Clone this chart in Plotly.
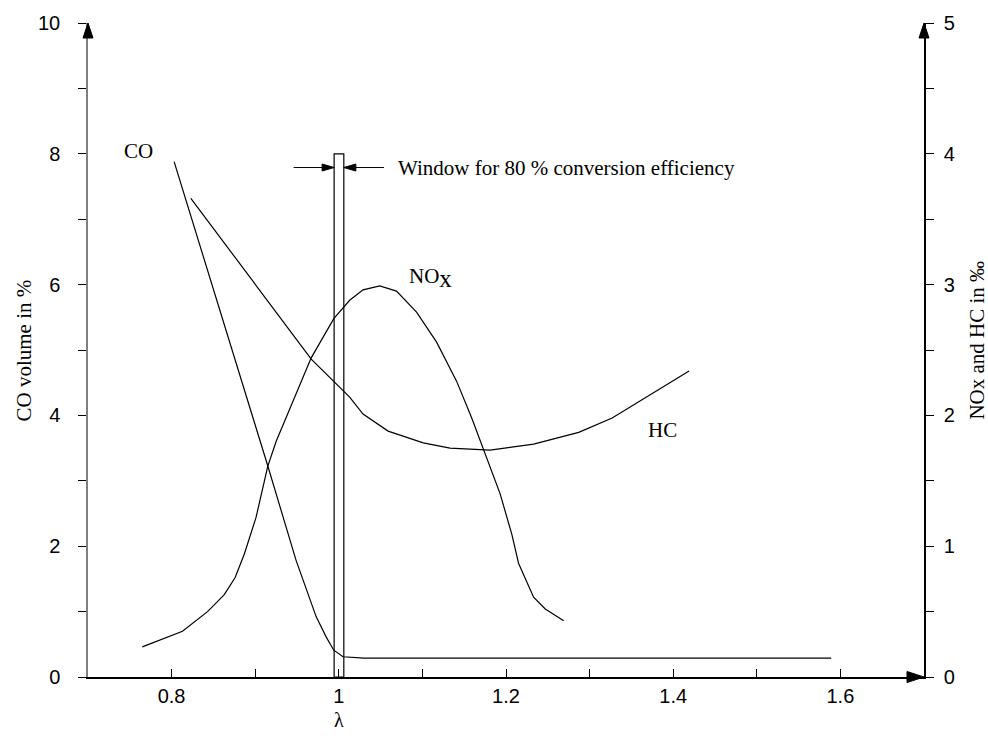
import plotly.graph_objects as go

# ---- data ----
lam_co = [0.803, 0.906, 0.915, 0.949, 0.973, 0.985, 0.994, 1.005, 1.03, 1.589]
co = [7.88, 3.61, 3.23, 1.78, 0.92, 0.61, 0.41, 0.31, 0.29, 0.29]

lam_hc = [0.823, 0.9, 0.967, 1.013, 1.029, 1.059, 1.101, 1.133, 1.181, 1.233, 1.287, 1.327, 1.419]
hc = [3.66, 3.0, 2.43, 2.14, 2.01, 1.88, 1.79, 1.75, 1.735, 1.78, 1.87, 1.98, 2.34]

lam_nox = [0.765, 0.813, 0.843, 0.863, 0.876, 0.887, 0.901, 0.915, 0.925, 0.967, 0.994,
           1.013, 1.029, 1.049, 1.069, 1.093, 1.117, 1.141, 1.159, 1.175, 1.193, 1.207,
           1.215, 1.233, 1.247, 1.269]
nox = [0.23, 0.35, 0.50, 0.63, 0.76, 0.94, 1.22, 1.61, 1.80, 2.44, 2.74,
       2.88, 2.96, 2.99, 2.95, 2.79, 2.56, 2.26, 1.98, 1.70, 1.40, 1.09,
       0.87, 0.61, 0.52, 0.43]

window_lo, window_hi, window_top = 0.9944, 1.006, 8.0
arrow_y = 7.79
arrow_left_start, arrow_right_start = 0.946, 1.054

x_range = [0.7, 1.7]
y_left_range = [0, 10]
y_right_range = [0, 5]

SERIF = "Liberation Serif"
SANS = "Liberation Sans"

W, H = 988, 744
ML, MR, MT, MB = 88, 64, 20, 67
PW, PH = W - ML - MR, H - MT - MB


def px_x(p):
    return (p - ML) / PW


def px_y(p):
    return (H - MB - p) / PH


fig = go.Figure()
line = dict(color="black", width=1.2)
fig.add_trace(go.Scatter(x=lam_co, y=co, mode="lines", line=line, yaxis="y", hoverinfo="skip"))
fig.add_trace(go.Scatter(x=lam_hc, y=hc, mode="lines", line=line, yaxis="y2", hoverinfo="skip"))
fig.add_trace(go.Scatter(x=lam_nox, y=nox, mode="lines", line=line, yaxis="y2", hoverinfo="skip"))

blk = dict(color="black", width=1)
shapes = [
    dict(type="rect", xref="x", yref="y", x0=window_lo, x1=window_hi, y0=0, y1=window_top,
         line=dict(color="black", width=1.2), fillcolor="rgba(0,0,0,0)", layer="above"),
    # axis arrowheads (paper refs, not clipped)
    dict(type="path", xref="paper", yref="paper", xsizemode="pixel", ysizemode="pixel",
         xanchor=0, yanchor=1, path="M -5 -15 L 5 -15 L 0 0 Z", fillcolor="black", line=blk),
    dict(type="path", xref="paper", yref="paper", xsizemode="pixel", ysizemode="pixel",
         xanchor=1, yanchor=1, path="M -5 -15 L 5 -15 L 0 0 Z", fillcolor="black", line=blk),
    dict(type="path", xref="paper", yref="paper", xsizemode="pixel", ysizemode="pixel",
         xanchor=1, yanchor=0, path="M -17 -5.5 L -17 5.5 L 0 0 Z", fillcolor="black", line=blk),
    # window arrows
    dict(type="line", xref="x", yref="y", x0=arrow_left_start, x1=window_lo, y0=arrow_y, y1=arrow_y, line=blk),
    dict(type="path", xref="x", yref="y", xsizemode="pixel", ysizemode="pixel",
         xanchor=window_lo, yanchor=arrow_y, path="M -12 -3.5 L -12 3.5 L 0 0 Z", fillcolor="black", line=blk),
    dict(type="line", xref="x", yref="y", x0=arrow_right_start, x1=window_hi, y0=arrow_y, y1=arrow_y, line=blk),
    dict(type="path", xref="x", yref="y", xsizemode="pixel", ysizemode="pixel",
         xanchor=window_hi, yanchor=arrow_y, path="M 12 -3.5 L 12 3.5 L 0 0 Z", fillcolor="black", line=blk),
]

annotations = [
    dict(x=1.069, y=arrow_y, xref="x", yref="y", text="Window for 80 % conversion efficiency",
         showarrow=False, xanchor="left", yanchor="middle", font=dict(family=SERIF, size=21, color="black")),
    dict(x=0.76, y=8.05, xref="x", yref="y", text="CO", showarrow=False,
         xanchor="center", yanchor="middle", font=dict(family=SERIF, size=21, color="black")),
    dict(x=1.081, y=6.1, xref="x", yref="y",
         text="NO<sub><span style='font-size:25px'>x</span></sub>", showarrow=False,
         xanchor="left", yanchor="middle", font=dict(family=SERIF, size=21, color="black")),
    dict(x=1.387, y=3.77, xref="x", yref="y", text="HC", showarrow=False,
         xanchor="center", yanchor="middle", font=dict(family=SERIF, size=21, color="black")),
    dict(x=1.0, y=px_y(720), xref="x", yref="paper", text="λ", showarrow=False,
         xanchor="center", yanchor="middle", font=dict(family=SERIF, size=20, color="black")),
    dict(x=px_x(24), y=px_y(349), xref="paper", yref="paper", text="CO volume in %",
         textangle=-90, showarrow=False, xanchor="center", yanchor="middle",
         font=dict(family=SERIF, size=21, color="black")),
    dict(x=px_x(977), y=px_y(339), xref="paper", yref="paper", text="NOx and HC in ‰",
         textangle=-90, showarrow=False, xanchor="center", yanchor="middle",
         font=dict(family=SERIF, size=21, color="black")),
]

tickfont = dict(family=SANS, size=20, color="black")

fig.update_layout(
    width=W, height=H,
    margin=dict(l=ML, r=MR, t=MT, b=MB, pad=0),
    paper_bgcolor="white", plot_bgcolor="white",
    showlegend=False,
    shapes=shapes, annotations=annotations,
    xaxis=dict(range=x_range, showline=True, linecolor="black", linewidth=2,
               ticks="inside", ticklen=8, tickwidth=1, tickcolor="black",
               tick0=0, dtick=0.2, minor=dict(dtick=0.1, ticks="inside", ticklen=8, tickcolor="black"),
               showgrid=False, zeroline=False, tickfont=tickfont, ticklabelstandoff=0),
    yaxis=dict(range=y_left_range, showline=True, linecolor="#808080", linewidth=1.5,
               ticks="outside", ticklen=8, tickwidth=1, tickcolor="black",
               tick0=0, dtick=2, minor=dict(dtick=1, ticks="outside", ticklen=8, tickcolor="black"),
               showgrid=False, zeroline=False, tickfont=tickfont, ticklabelstandoff=14),
    yaxis2=dict(range=y_right_range, overlaying="y", side="right", anchor="x",
                showline=True, linecolor="black", linewidth=1.5,
                ticks="outside", ticklen=8, tickwidth=1, tickcolor="black",
                tick0=0, dtick=1, minor=dict(dtick=0.5, ticks="outside", ticklen=8, tickcolor="black"),
                showgrid=False, zeroline=False, tickfont=tickfont, ticklabelstandoff=6),
)

fig.write_html("out.html")
